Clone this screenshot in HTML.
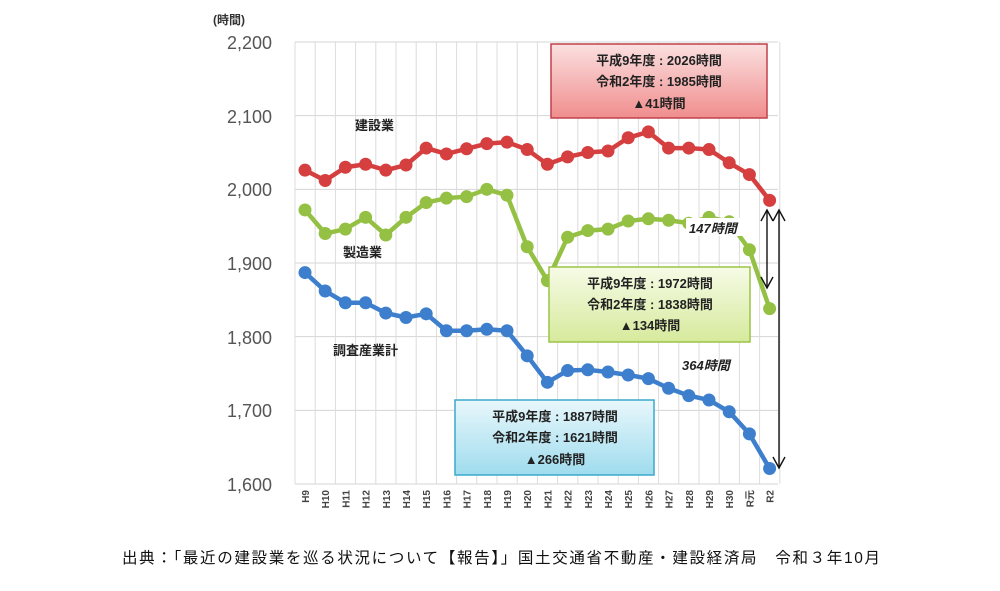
<!DOCTYPE html>
<html><head><meta charset="utf-8"><style>
body{margin:0;background:#fff;width:1000px;height:586px;overflow:hidden;font-family:"Liberation Sans","Noto Sans CJK JP",sans-serif}
</style></head><body>
<svg width="1000" height="586" xmlns="http://www.w3.org/2000/svg" font-family="Liberation Sans, Noto Sans CJK JP, sans-serif">
<defs>
<linearGradient id="gr" x1="0" y1="0" x2="0" y2="1"><stop offset="0" stop-color="#fbe0e0"/><stop offset="1" stop-color="#f08d8d"/></linearGradient>
<linearGradient id="gg" x1="0" y1="0" x2="0" y2="1"><stop offset="0" stop-color="#f6fbe6"/><stop offset="1" stop-color="#d6ea9c"/></linearGradient>
<linearGradient id="gb" x1="0" y1="0" x2="0" y2="1"><stop offset="0" stop-color="#e8f7fb"/><stop offset="1" stop-color="#9fdcee"/></linearGradient>
</defs>
<g id="grid"></g>
<text x="213" y="24" font-size="12" font-weight="bold" fill="#333">(時間)</text>
<g font-size="18" fill="#555" text-anchor="end">
<text x="272" y="49">2,200</text><text x="272" y="123">2,100</text><text x="272" y="196">2,000</text>
<text x="272" y="270">1,900</text><text x="272" y="344">1,800</text><text x="272" y="417">1,700</text><text x="272" y="491">1,600</text>
</g>
<g id="series"></g>
<g id="xl" font-size="10" font-weight="bold" fill="#444"></g>
<text x="355" y="130" font-size="13" font-weight="bold" fill="#222">建設業</text>
<text x="343" y="257" font-size="13" font-weight="bold" fill="#222">製造業</text>
<text x="333" y="355" font-size="13" font-weight="bold" fill="#222">調査産業計</text>
<rect x="551" y="44" width="216" height="74" fill="url(#gr)" stroke="#c0404a" stroke-width="1.5"/>
<g font-size="13" font-weight="bold" fill="#222" text-anchor="middle">
<text x="659" y="65">平成9年度 : 2026時間</text><text x="659" y="86">令和2年度 : 1985時間</text><text x="659" y="108">▲41時間</text>
</g>
<g stroke="#111" stroke-width="1.4" fill="none">
<line x1="767" y1="210" x2="767" y2="288"/>
<path d="M761,221 L767,210 L773,221 M761,277 L767,288 L773,277"/>
<line x1="779" y1="210" x2="779" y2="468"/>
<path d="M773,221 L779,210 L785,221 M773,457 L779,468 L785,457"/>
</g>
<rect x="686" y="218" width="64" height="18" fill="#fff"/>
<text x="689" y="233" font-size="13" font-weight="bold" font-style="italic" fill="#222">147時間</text>
<rect x="549" y="267" width="201" height="75" fill="url(#gg)" stroke="#9cc445" stroke-width="1.5"/>
<g font-size="13" font-weight="bold" fill="#222" text-anchor="middle">
<text x="650" y="288">平成9年度 : 1972時間</text><text x="650" y="309">令和2年度 : 1838時間</text><text x="650" y="330">▲134時間</text>
</g>
<text x="682" y="370" font-size="13" font-weight="bold" font-style="italic" fill="#222">364時間</text>
<rect x="455" y="400" width="199" height="75" fill="url(#gb)" stroke="#3aa9cc" stroke-width="1.5"/>
<g font-size="13" font-weight="bold" fill="#222" text-anchor="middle">
<text x="555" y="421">平成9年度 : 1887時間</text><text x="555" y="442">令和2年度 : 1621時間</text><text x="555" y="464">▲266時間</text>
</g>
<text x="122" y="563" font-size="15.5" fill="#111" textLength="758" lengthAdjust="spacing">出典：「最近の建設業を巡る状況について【報告】」国土交通省不動産・建設経済局　令和３年10月</text>
</svg>
<script>
const X=i=>305+i*20.2, Y=v=>484-(v-1600)*0.7367;
let g=document.getElementById('grid'),h='';
for(let v=1600;v<=2200;v+=100)h+=`<line x1="295" x2="778" y1="${Y(v)}" y2="${Y(v)}" stroke="#d4d4d4" stroke-width="1"/>`;
for(let i=0;i<=24;i++){let x=295+i*20.2;h+=`<line x1="${x}" x2="${x}" y1="42" y2="484" stroke="#dcdcdc" stroke-width="1"/>`;}
g.innerHTML=h;
const red=[2026,2012,2030,2034,2026,2033,2056,2048,2055,2062,2064,2054,2034,2044,2050,2052,2070,2078,2056,2056,2054,2036,2020,1985];
const grn=[1972,1940,1946,1962,1938,1962,1982,1988,1990,2000,1992,1922,1876,1935,1944,1946,1957,1960,1958,1954,1962,1956,1918,1838];
const blu=[1887,1862,1846,1846,1832,1826,1831,1808,1808,1810,1808,1774,1738,1754,1755,1752,1748,1743,1730,1720,1714,1698,1668,1621];
let s='';
[[red,'#d53f3f'],[grn,'#94c043'],[blu,'#3d7fcc']].forEach(([d,c])=>{
 s+=`<polyline fill="none" stroke="${c}" stroke-width="4.5" stroke-linejoin="round" points="${d.map((v,i)=>X(i)+','+Y(v)).join(' ')}"/>`;
 d.forEach((v,i)=>s+=`<circle cx="${X(i)}" cy="${Y(v)}" r="6.5" fill="${c}"/>`);
});
document.getElementById('series').innerHTML=s;
const lab=['H9','H10','H11','H12','H13','H14','H15','H16','H17','H18','H19','H20','H21','H22','H23','H24','H25','H26','H27','H28','H29','H30','R元','R2'];
document.getElementById('xl').innerHTML=lab.map((l,i)=>`<text transform="translate(${X(i)+4},490) rotate(-90)" text-anchor="end">${l}</text>`).join('');
</script>
</body></html>
